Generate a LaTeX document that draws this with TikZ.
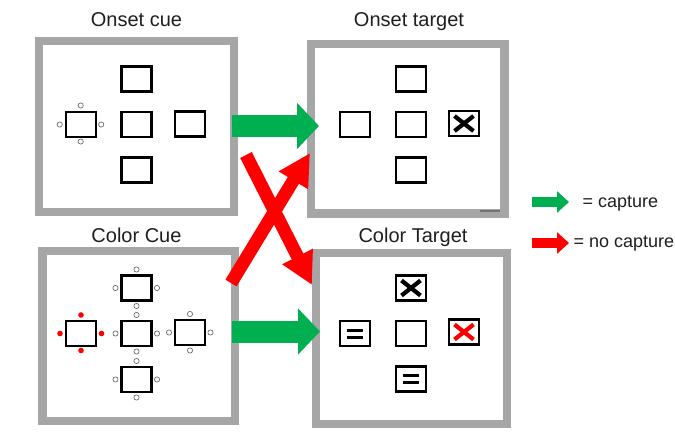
\documentclass[tikz,border=0pt]{standalone}
\usepackage{fontspec}
\setmainfont{Liberation Sans}
\usetikzlibrary{arrows.meta}
\definecolor{framegray}{HTML}{A6A6A6}
\definecolor{capgreen}{HTML}{00B050}
\definecolor{ringgray}{HTML}{6E6E6E}
\begin{document}
\begin{tikzpicture}[x=1pt,y=-1pt,
 frame/.style={draw=framegray, line width=8.5pt, inner sep=0pt},
 sq/.style={draw=black, line width=2.2pt, minimum width=30pt, minimum height=25pt, inner sep=0pt, fill=white},
 ring/.style={circle, draw=ringgray, line width=0.7pt, minimum size=5.2pt, inner sep=0pt, fill=white},
 rdot/.style={circle, fill=red, minimum size=5.6pt, inner sep=0pt},
 ttl/.style={font=\fontsize{20}{24}\selectfont, text=black!88, anchor=base},
 lgd/.style={font=\fontsize{18}{22}\selectfont, text=black!88, anchor=base west},
 xmark/.style={line width=4.2pt},
 eqbar/.style={line width=3pt},
 bigg/.style={draw=capgreen, line width=22pt, -{Triangle[length=22pt,width=45pt]}},
 bigr/.style={draw=red, line width=13pt, -{Triangle[length=32pt,width=32pt]}},
 smallg/.style={draw=capgreen, line width=10pt, -{Triangle[length=12pt,width=21pt]}},
 smallr/.style={draw=red, line width=10pt, -{Triangle[length=12pt,width=21pt]}}
]
\useasboundingbox (0,0) rectangle (675,444);
\fill[white] (0,0) rectangle (675,444);

% frames
\node[frame, minimum width=195pt, minimum height=171pt] (f1) at (136.5,126.5) {};
\node[frame, minimum width=193.5pt, minimum height=169.5pt] (f2) at (407.75,128.75) {};
\node[frame, minimum width=192.5pt, minimum height=170pt] (f3) at (138.75,336) {};
\node[frame, minimum width=191pt, minimum height=171pt] (f4) at (411.5,338.5) {};
\draw[draw=black!55, line width=1.5pt] (480,211) -- (500,211);

% titles
\node[ttl] (t1) at (136.5,27) {Onset cue};
\node[ttl] (t2) at (409,27) {Onset target};
\node[ttl] (t3) at (136.5,242) {Color Cue};
\node[ttl] (t4) at (413,242) {Color Target};

% panel 1: onset cue
\node[sq] (a1) at (136.5,79) {};
\node[sq] (a2) at (136.5,124.5) {};
\node[sq] (a3) at (136.5,170) {};
\node[sq] (a4) at (80.7,124.5) {};
\node[sq] (a5) at (190,124) {};
\node[ring] (a4n) at ([yshift=19pt]a4.center) {};
\node[ring] (a4s) at ([yshift=-17pt]a4.center) {};
\node[ring] (a4w) at ([xshift=-21pt]a4.center) {};
\node[ring] (a4e) at ([xshift=20.5pt]a4.center) {};

% panel 2: onset target
\node[sq] (b1) at (411,79) {};
\node[sq] (b2) at (411,124.5) {};
\node[sq] (b3) at (411,170) {};
\node[sq] (b4) at (355,124.5) {};
\node[sq] (b5) at (464,123.5) {};
\draw[xmark] ([shift={(-9.5pt,7.5pt)}]b5.center) -- ([shift={(9.5pt,-7.5pt)}]b5.center);
\draw[xmark] ([shift={(-9.5pt,-7.5pt)}]b5.center) -- ([shift={(9.5pt,7.5pt)}]b5.center);

% panel 3: color cue
\node[sq] (c1) at (136.5,288) {};
\node[sq] (c2) at (136.5,333.5) {};
\node[sq] (c3) at (136.5,379.5) {};
\node[sq] (c4) at (81,333.5) {};
\node[sq] (c5) at (190,332.5) {};
\foreach \b in {c1,c2,c3,c5}{
  \node[ring] (\b n) at ([yshift=18.5pt]\b.center) {};
  \node[ring] (\b s) at ([yshift=-18pt]\b.center) {};
  \node[ring] (\b w) at ([xshift=-21pt]\b.center) {};
  \node[ring] (\b e) at ([xshift=20.5pt]\b.center) {};
}
\node[rdot] (c4n) at ([yshift=18.5pt]c4.center) {};
\node[rdot] (c4s) at ([yshift=-17pt]c4.center) {};
\node[rdot] (c4w) at ([xshift=-21pt]c4.center) {};
\node[rdot] (c4e) at ([xshift=20.5pt]c4.center) {};

% panel 4: color target
\node[sq] (d1) at (411,288) {};
\node[sq] (d2) at (411,333.5) {};
\node[sq] (d3) at (411,379) {};
\node[sq] (d4) at (355,333.5) {};
\node[sq] (d5) at (464,332) {};
\draw[xmark] ([shift={(-9.5pt,7.5pt)}]d1.center) -- ([shift={(9.5pt,-7.5pt)}]d1.center);
\draw[xmark] ([shift={(-9.5pt,-7.5pt)}]d1.center) -- ([shift={(9.5pt,7.5pt)}]d1.center);
\draw[xmark, red] ([shift={(-9.5pt,7.5pt)}]d5.center) -- ([shift={(9.5pt,-7.5pt)}]d5.center);
\draw[xmark, red] ([shift={(-9.5pt,-7.5pt)}]d5.center) -- ([shift={(9.5pt,7.5pt)}]d5.center);
\foreach \b in {d4,d3}{
  \draw[eqbar] ([shift={(-8pt,3.5pt)}]\b.center) -- ([shift={(8pt,3.5pt)}]\b.center);
  \draw[eqbar] ([shift={(-8pt,-3.5pt)}]\b.center) -- ([shift={(8pt,-3.5pt)}]\b.center);
}

% big arrows
\coordinate (g1s) at (232,126);
\coordinate (g1e) at (319,126);
\coordinate (g2s) at (232,331.5);
\coordinate (g2e) at (320,331.5);
\coordinate (r1s) at (246,155);
\coordinate (r1e) at (312,285);
\coordinate (r2s) at (231,283);
\coordinate (r2e) at (310,153);
\draw[bigg] (g1s) -- (g1e);
\draw[bigg] (g2s) -- (g2e);
\draw[bigr] (r1s) -- (r1e);
\draw[bigr] (r2s) -- (r2e);

% legend
\coordinate (lg1) at (532,202);
\coordinate (lg2) at (569,202);
\coordinate (lr1) at (532,243);
\coordinate (lr2) at (569,243);
\draw[smallg] (lg1) -- (lg2);
\draw[smallr] (lr1) -- (lr2);
\node[lgd] (lt1) at (579,207) {= capture};
\node[lgd] (lt2) at (570,247) {= no capture};
\end{tikzpicture}
\end{document}
